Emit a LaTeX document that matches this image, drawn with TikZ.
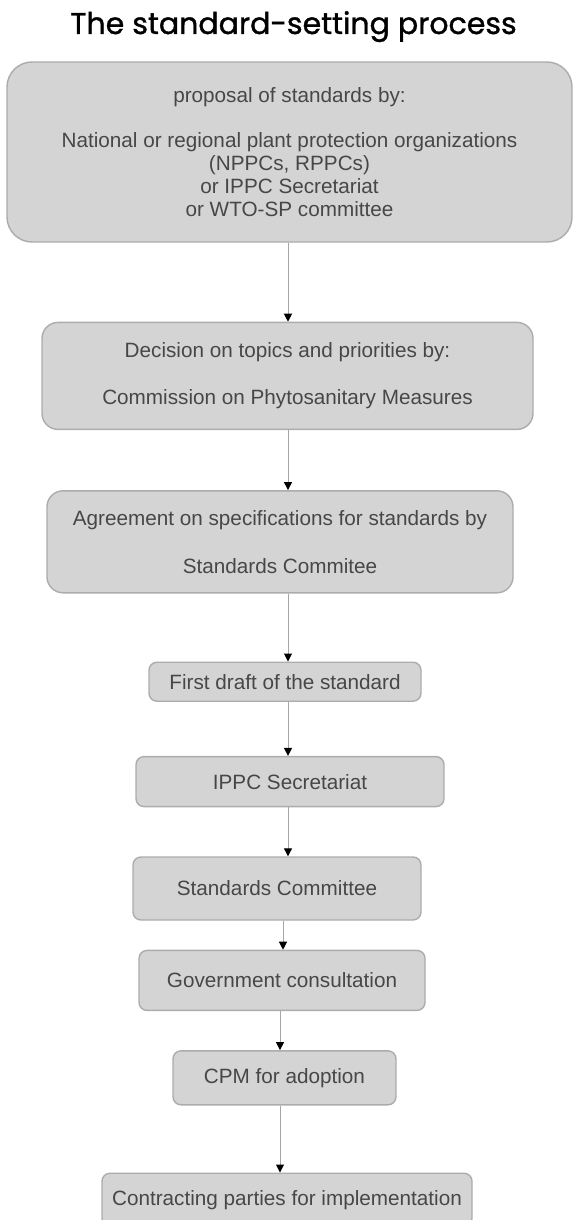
\documentclass[tikz,border=0pt]{standalone}
\usepackage{fontspec}
\setmainfont{Liberation Sans}
\newfontfamily\titlefont[FakeBold=1.2]{Poppins}
\usetikzlibrary{arrows.meta,positioning}

\begin{document}
\begin{tikzpicture}[x=1pt, y=1pt, font=\fontsize{20.7}{23}\selectfont, box/.style={draw=gray!65, line width=1.4pt, fill=black!17, text=black!72, rounded corners=8pt, align=center, inner sep=0pt}, arr/.style={-{Triangle[length=8pt, width=8pt, black]}, draw=gray!70, line width=1pt}]
\useasboundingbox (0,0) rectangle (576,-1220);
\coordinate (spine) at (288,0);
\coordinate (lowspine) at (280,0);
\node[anchor=base, font=\titlefont\fontsize{30}{30}\selectfont] (title) at (293.5,-34) {The standard-setting process};
\node[box, rounded corners=25pt, minimum width=565pt, minimum height=180pt] (proposal) at (289.5,-152) {proposal of standards by:\\[22pt] National or regional plant protection organizations\\ (NPPCs, RPPCs)\\ or IPPC Secretariat\\ or WTO-SP committee};
\node[box, rounded corners=16pt, below=79pt of proposal, xshift=-2pt, minimum width=491pt, minimum height=107pt] (topics) {Decision on topics and priorities by:\\[24pt] Commission on Phytosanitary Measures};
\node[box, rounded corners=16pt, below=60pt of topics, xshift=-7.5pt, minimum width=466pt, minimum height=102pt] (specs) {Agreement on specifications for standards by\\[25pt] Standards Commitee};
\node[box, below=68pt of specs, xshift=5pt, minimum width=272pt, minimum height=39pt] (draft) {First draft of the standard};
\node[box, below=54pt of draft, xshift=5pt, minimum width=308pt, minimum height=50pt] (secretariat) {IPPC Secretariat};
\node[box, below=49pt of secretariat, xshift=-13pt, minimum width=288pt, minimum height=63pt] (review) {Standards Committee};
\node[box, below=29pt of review, xshift=5pt, minimum width=286pt, minimum height=60pt] (consult) {Government consultation};
\node[box, below=39pt of consult, xshift=2.5pt, minimum width=223pt, minimum height=54pt] (cpm) {CPM for adoption};
\node[box, below=67pt of cpm, xshift=2.5pt, minimum width=370pt, minimum height=53pt] (parties) {Contracting parties for implementation};
\foreach \a/\b in {proposal/topics, topics/specs, specs/draft, draft/secretariat, secretariat/review}
  \draw[arr] (\a.south -| spine) -- (\b.north -| spine);
\draw[arr] ([xshift=6pt]review.south) -- ([xshift=6pt]review.south |- consult.north);
\draw[arr] (consult.south -| lowspine) -- (cpm.north -| lowspine);
\draw[arr] (cpm.south -| lowspine) -- (parties.north -| lowspine);
\end{tikzpicture}
\end{document}
